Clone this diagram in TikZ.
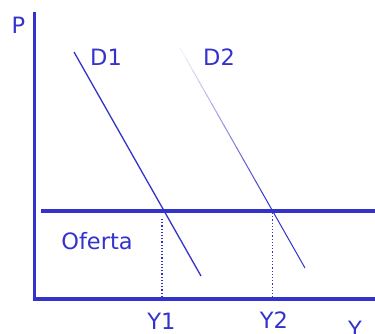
\documentclass[tikz,border=0pt]{standalone}
\usepackage{fontspec}
\setmainfont{DejaVu Sans}
\usetikzlibrary{calc}
\definecolor{ax}{HTML}{3333CC}
\begin{document}
\begin{tikzpicture}[x=1pt,y=-1pt,
  lbl/.style={text=ax,font=\fontsize{22.5}{22.5}\selectfont,inner sep=0pt,anchor=base},
  thick axis/.style={draw=ax,line width=3.2pt},
  demand/.style={draw=ax,line width=1.3pt},
  guide/.style={draw=ax,line width=1.2pt,dotted}]
\useasboundingbox (0,0) rectangle (375,333);
% axes
\coordinate (top) at (34.5,12);
\coordinate (origin) at (34.5,299);
\coordinate (xend) at (376,299);
\draw[thick axis] (top) -- (origin) -- (xend);
% supply
\coordinate (s0) at (41,211);
\coordinate (s1) at (376,211);
\draw[thick axis,line cap=butt] (s0) -- (s1);
% D1
\coordinate (d1a) at (74,52);
\coordinate (d1b) at (201,276);
\draw[demand] (d1a) -- (d1b);
% D2 (fading towards top)
\coordinate (d2a) at (180,48);
\coordinate (d2b) at (305,268);
\foreach \i in {0,...,19}{
  \pgfmathsetmacro{\ta}{\i/20}
  \pgfmathsetmacro{\tb}{(\i+1)/20}
  \pgfmathsetmacro{\op}{min(100,8+\i*7)}
  \draw[ax!\op,line width=1pt] ($(d2a)!\ta!(d2b)$) -- ($(d2a)!\tb!(d2b)$);
}
% guides
\coordinate (g1a) at (162,219);
\coordinate (g1b) at (162,298);
\coordinate (g2a) at (272.5,213);
\coordinate (g2b) at (272.5,298);
\draw[guide] (g1a) -- (g1b);
\draw[guide] (g2a) -- (g2b);
% labels
\node[lbl] (P) at (18.5,33) {P};
\node[lbl] (D1) at (106,65) {D1};
\node[lbl] (D2) at (219,65) {D2};
\node[lbl] (Of) at (97,249) {Oferta};
\node[lbl] (Y1) at (161.5,329) {Y1};
\node[lbl] (Y2) at (274,328) {Y2};
\node[lbl] (Y) at (355,337) {Y};
\end{tikzpicture}
\end{document}
